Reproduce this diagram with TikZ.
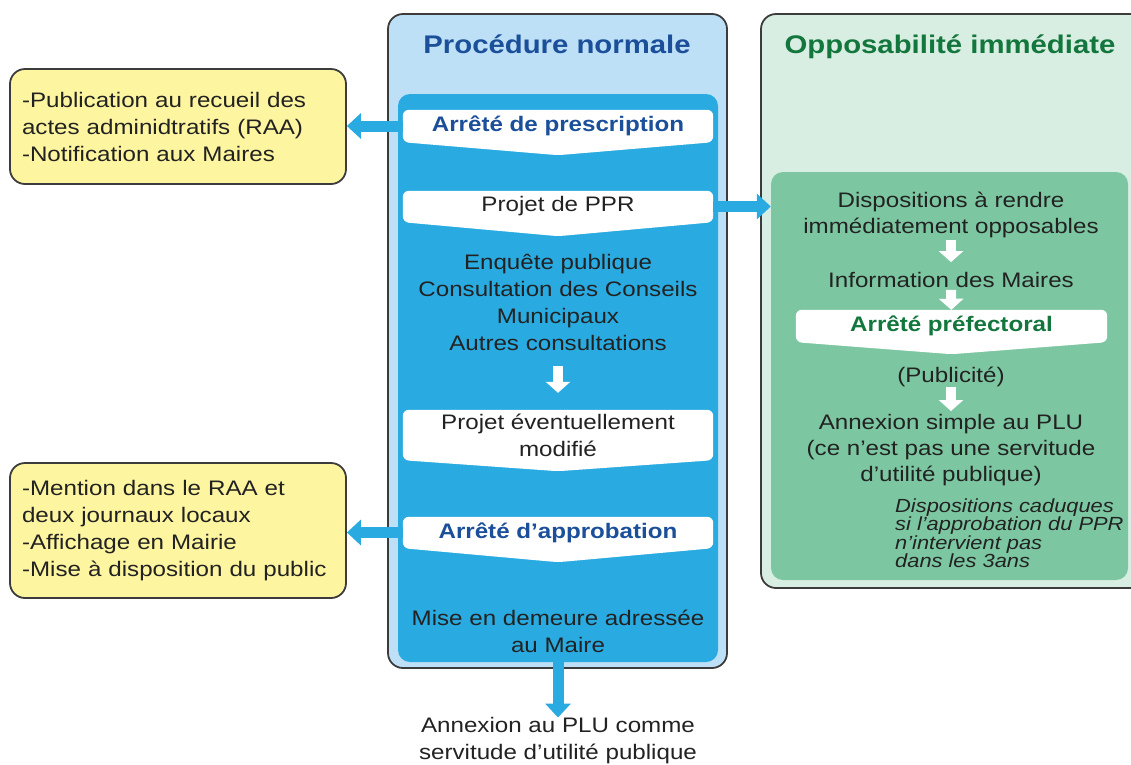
\documentclass[tikz,border=0pt]{standalone}
\usepackage{fontspec}
\setmainfont{Liberation Sans}[FakeStretch=1.15]
\usetikzlibrary{arrows.meta}
\usetikzlibrary{calc}

\definecolor{procblue}{HTML}{29ABE2}
\definecolor{palblue}{HTML}{BDE0F7}
\definecolor{titleblue}{HTML}{1B4F99}
\definecolor{oppgreen}{HTML}{7CC7A1}
\definecolor{palgreen}{HTML}{D9EEE2}
\definecolor{titlegreen}{HTML}{13773D}
\definecolor{noteyellow}{HTML}{FDF59F}
\definecolor{framegray}{HTML}{3C3C3C}
\definecolor{inkgray}{HTML}{222222}

\pgfdeclarelayer{back}
\pgfdeclarelayer{mid}
\pgfsetlayers{back,mid,main}

% white label with a pointed bottom, under the node #1
\newcommand{\chevron}[2]{%
  \begin{pgfonlayer}{mid}
  \fill[white, rounded corners=6pt] (#1.north west) -- (#1.north east) -- (#1.south east)
    -- ([yshift=-#2]#1.south) -- (#1.south west) -- cycle;
  \end{pgfonlayer}}

\begin{document}
\begin{tikzpicture}[x=1pt, y=-1pt,
frame/.style={draw=framegray, line width=1.8pt, rounded corners=15pt},
panel/.style={inner sep=0pt, rounded corners=12pt},
body/.style={font=\fontsize{21}{27}\selectfont, text=inkgray, align=center, inner sep=0pt},
greenbody/.style={body, font=\fontsize{21}{26}\selectfont},
heading/.style={font=\fontsize{25.5}{30}\selectfont\bfseries, inner sep=0pt},
banner/.style={body, minimum width=310pt, minimum height=31pt},
bannerbold/.style={banner, font=\fontsize{21}{27}\selectfont\bfseries},
note/.style={frame, fill=noteyellow, body, align=left, text width=312pt, minimum width=336pt},
aside/.style={font=\fontsize{19}{18.5}\selectfont\itshape, text=inkgray, align=left, inner sep=0pt},
blueflow/.style={draw=procblue, line width=11pt, -{Triangle[width=25pt,length=14pt]}},
whiteflow/.style={draw=white, line width=10pt, -{Triangle[width=24pt,length=11pt]}}]
\useasboundingbox (0,0) rectangle (1131,764);

\begin{pgfonlayer}{back}
\draw[frame, fill=palblue] (388,14) rectangle (727,668);
\draw[frame, fill=palgreen] (761,14) rectangle (1170,588);
\node[panel, fill=procblue, minimum width=320pt, minimum height=568pt] (procbox) at (558,378) {};
\node[panel, fill=oppgreen, minimum width=357pt, minimum height=408pt] (immbox) at (949.5,376) {};
\end{pgfonlayer}

\node[heading, text=titleblue, anchor=base] (normtitle) at (557,53) {Procédure normale};
\node[heading, text=titlegreen, anchor=base] (opptitle) at (950,53) {Opposabilité immédiate};

% procedure normale
\node[bannerbold, text=titleblue, minimum height=32pt] (presc) at (558,126) {Arrêté de prescription};
\node[banner] (ppr) at (558,206.5) {Projet de PPR};
\node[body] (enq) at (558,302) {Enquête publique\\Consultation des Conseils\\Municipaux\\Autres consultations};
\node[banner, minimum height=50pt] (modif) at (558,435) {Projet éventuellement\\modifié};
\node[bannerbold, text=titleblue] (approb) at (558,532.5) {Arrêté d’approbation};
\node[body] (mise) at (558,631) {Mise en demeure adressée\\au Maire};
\node[body] (annexe) at (558,741) {Annexion au PLU comme\\servitude d’utilité publique};
\chevron{presc}{13pt}
\chevron{ppr}{14pt}
\chevron{modif}{11pt}
\chevron{approb}{14pt}

% publicite
\node[note, minimum height=115pt] (raa) at (178,126.5) {-Publication au recueil des\\actes adminidtratifs (RAA)\\-Notification aux Maires};
\node[note, minimum height=135pt] (pub) at (178,530.5) {-Mention dans le RAA et\\deux journaux locaux\\-Affichage en Mairie\\-Mise à disposition du public};

% opposabilite immediate
\node[greenbody] (dispo) at (951,214.5) {Dispositions à rendre\\immédiatement opposables};
\node[greenbody] (info) at (951,280) {Information des Maires};
\node[bannerbold, text=titlegreen, minimum width=311pt, minimum height=32pt] (pref) at (951.5,326) {Arrêté préfectoral};
\node[greenbody] (publ) at (951,377) {(Publicité)};
\node[greenbody] (annsimple) at (951,450) {Annexion simple au PLU\\(ce n’est pas une servitude\\d’utilité publique)};
\node[aside, anchor=west] (caduc) at (895,533) {Dispositions caduques\\si l’approbation du PPR\\n’intervient pas\\dans les 3ans};
\chevron{pref}{12pt}

\draw[blueflow] (presc.west) -- (presc.west -| raa.east);
\draw[blueflow] (approb.west) -- (approb.west -| pub.east);
\draw[blueflow] (ppr.east) -- (ppr.east -| immbox.west);
\draw[blueflow] (procbox.south) -- (annexe.north);
\draw[whiteflow, shorten <=16pt, shorten >=17pt] (enq) -- (modif);
\draw[whiteflow, shorten <=2pt, shorten >=10pt] (dispo) -- (info);
\draw[whiteflow, shorten <=2pt] (info) -- (pref);
\draw[whiteflow, shorten >=3pt] (publ) -- (annsimple);
\end{tikzpicture}
\end{document}
